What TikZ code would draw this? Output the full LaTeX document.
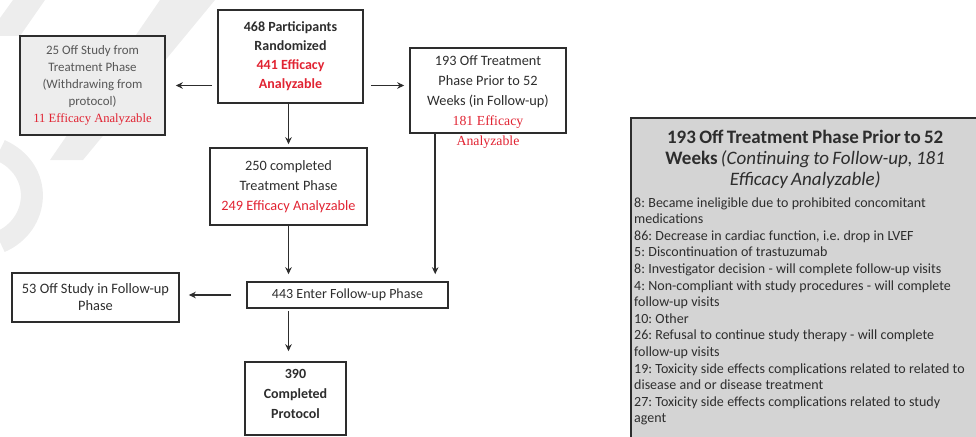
\documentclass[tikz,border=0pt]{standalone}
\usepackage{fontspec}
\setmainfont{Carlito}
\newfontfamily\tnr{Liberation Serif}
\usetikzlibrary{arrows.meta}
\definecolor{ink}{RGB}{45,45,45}
\definecolor{redtxt}{RGB}{225,35,50}
\definecolor{panel}{RGB}{212,212,212}
\definecolor{wmark}{RGB}{237,237,237}
\frenchspacing

\begin{document}
\begin{tikzpicture}[x=1pt,y=-1pt]
  \tikzstyle{box}=[draw=ink, line width=1.6pt, text=ink, align=center, inner sep=0pt,
                   font=\fontsize{14.3}{20}\selectfont]
  \tikzstyle{arr}=[draw=ink, line width=1.6pt, -{Stealth[length=7pt,width=6.5pt]}]
  \useasboundingbox (0,0) rectangle (976,436);
  % faint watermark behind the chart
  \fill[wmark] (160,0) -- (215,0) -- (83,160) -- (50,160) -- cycle;
  \fill[wmark] (13,0) -- (45,0) -- (20,36) -- (0,36) -- (0,18) -- cycle;
  \draw[wmark, line width=22pt] (0,150) .. controls (45,170) and (40,225) .. (0,242);
  % boxes
  \node[box, minimum width=145, minimum height=93, font=\bfseries\fontsize{14}{19}\selectfont] (B1) at (290.5,56.5)
    {468 Participants\\Randomized\\\textcolor{redtxt}{441 Efficacy}\\\textcolor{redtxt}{Analyzable}};
  \node[box, minimum width=145, minimum height=99, fill=wmark, text=ink!80, font=\fontsize{12.9}{17}\selectfont] (B2) at (92.5,85.5)
    {25 Off Study from\\Treatment Phase\\(Withdrawing from\\protocol)\\{\tnr\fontsize{12.6}{17}\selectfont\color{redtxt}11 Efficacy Analyzable}};
  \node[box, minimum width=156, minimum height=85] (B3) at (488,90.5) {};
  \node[box, draw=none] (T3) at (488,102.5)
    {193 Off Treatment\\Phase Prior to 52\\Weeks (in Follow-up)\\{\tnr\fontsize{13.8}{20}\selectfont\color{redtxt}181 Efficacy}\\{\tnr\fontsize{13.8}{20}\selectfont\color{redtxt}Analyzable}};
  \node[box, minimum width=157, minimum height=77] (B4) at (288.5,186.5)
    {250 completed\\Treatment Phase\\\textcolor{redtxt}{249 Efficacy Analyzable}};
  \node[box, minimum width=201, minimum height=26, font=\fontsize{14}{15}\selectfont] (B5) at (347.5,295)
    {443 Enter Follow-up Phase};
  \node[box, minimum width=167, minimum height=49, font=\fontsize{14.4}{17}\selectfont] (B6) at (95.5,297.5)
    {53 Off Study in Follow-up\\Phase};
  \node[box, minimum width=101, minimum height=73, font=\bfseries\fontsize{14}{20}\selectfont] (B7) at (295.5,398.5)
    {390\\Completed\\Protocol\\[-10pt]};
  % reasons panel
  \node[draw=ink, line width=2pt, fill=panel, anchor=north west, minimum width=352, minimum height=330] (G0) at (630,117) {};
  \node[anchor=north west, text=ink, text width=342, inner sep=0pt] (G1) at (634,130)
    {{\centering\fontsize{19}{21}\selectfont\bfseries
      193 Off Treatment Phase Prior to 52\\
      Weeks {\mdseries\itshape(Continuing to Follow-up, 181}\\
      {\mdseries\itshape Efficacy Analyzable)}\par}
     \vspace{5pt}
     \raggedright\fontsize{14}{16.6}\selectfont
     8: Became ineligible due to prohibited concomitant\\
     medications\\
     86: Decrease in cardiac function, i.e. drop in LVEF\\
     5: Discontinuation of trastuzumab\\
     8: Investigator decision - will complete follow-up visits\\
     4: Non-compliant with study procedures - will complete\\
     follow-up visits\\
     10: Other\\
     26: Refusal to continue study therapy - will complete\\
     follow-up visits\\
     19: Toxicity side effects complications related to related to\\
     disease and or disease treatment\\
     27: Toxicity side effects complications related to study\\
     agent\par};
  % connectors
  \coordinate (C1) at ([xshift=26pt]B3.south west);
  \draw[arr] ([xshift=-5pt]B1.west |- B2.east) -- ([xshift=10pt]B2.east);
  \draw[arr] ([xshift=7pt]B1.east |- B2.east) -- ([xshift=-5pt]B3.west |- B2.east);
  \draw[arr, shorten >=3pt] (B1.south -| B4.north) -- (B4.north);
  \draw[arr, shorten >=7pt] (B4.south) -- (B4.south |- B5.north);
  \draw[arr, shorten >=7pt] (C1) -- (C1 |- B5.north);
  \draw[arr] ([xshift=-15pt]B5.west) -- ([xshift=9pt]B6.east |- B5.west);
  \draw[arr, shorten <=2pt, shorten >=10pt] (B4.south |- B5.south) -- (B4.south |- B7.north);
\end{tikzpicture}
\end{document}
